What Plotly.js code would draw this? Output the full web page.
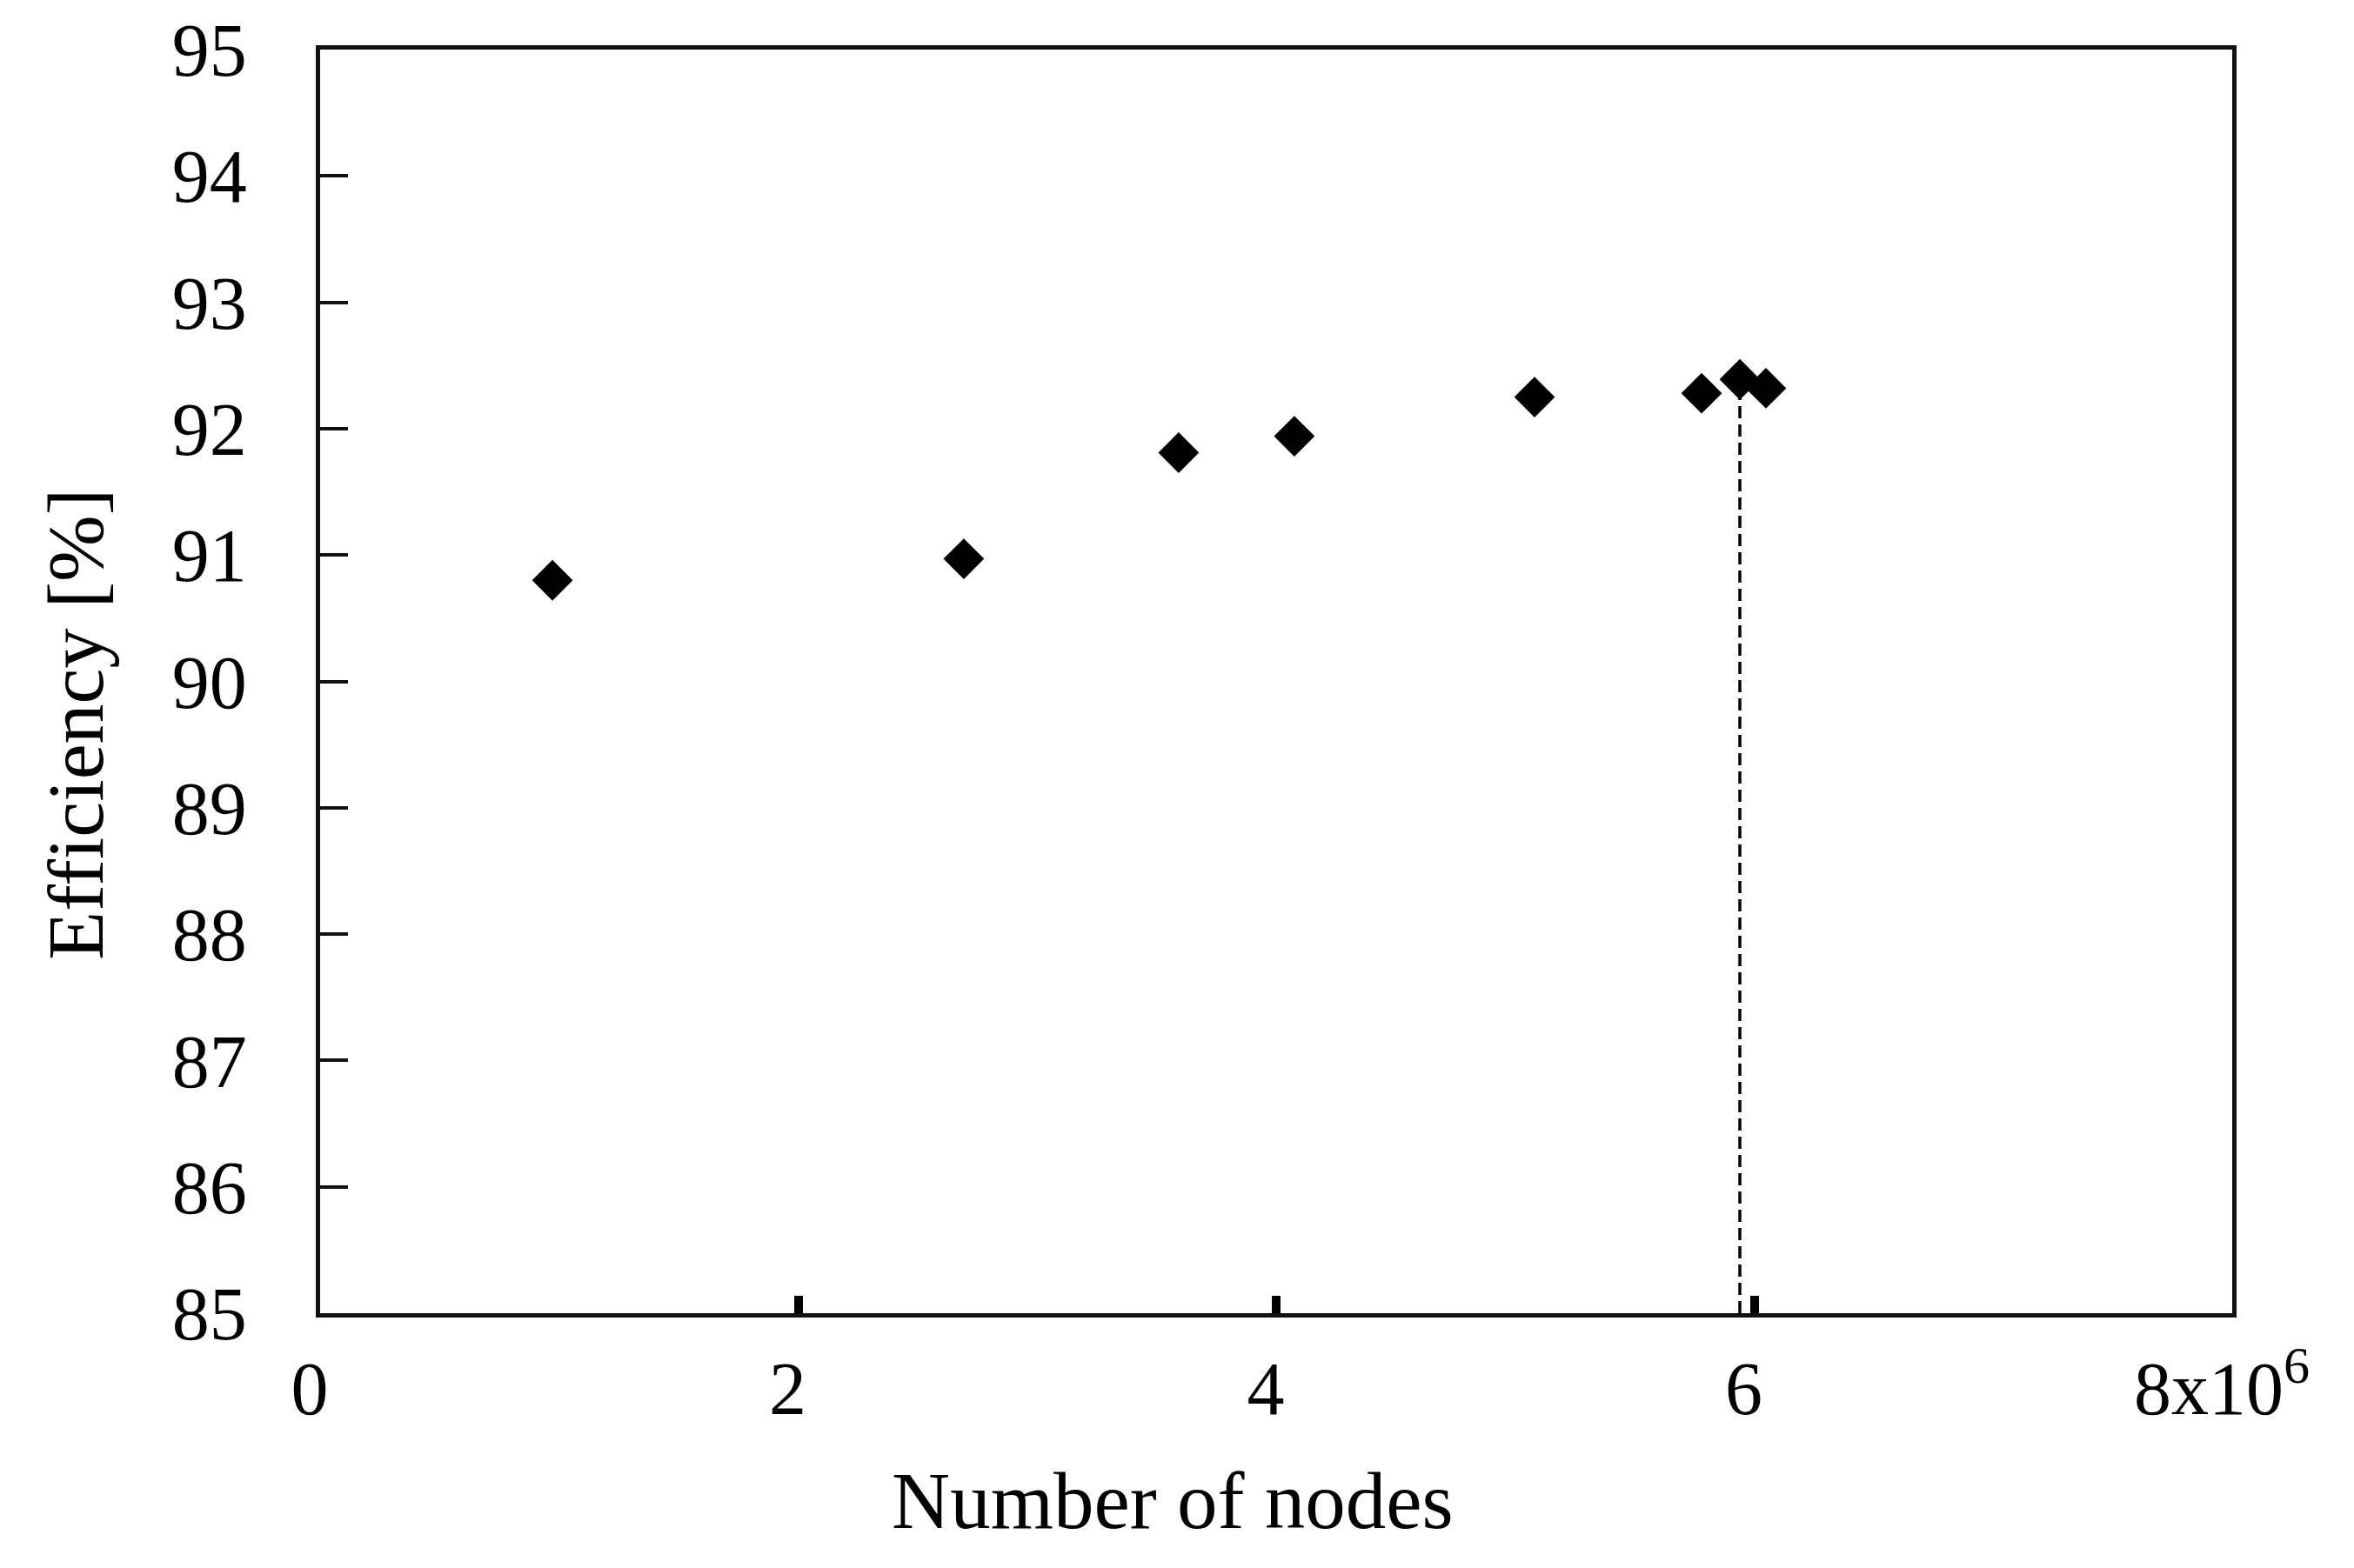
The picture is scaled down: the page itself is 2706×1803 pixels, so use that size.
<!DOCTYPE html>
<html>
<head>
<meta charset="utf-8">
<script src="https://cdn.plot.ly/plotly-3.0.1.min.js"></script>
<style>
  html, body { margin: 0; padding: 0; background: #ffffff; }
  #chart { width: 2706px; height: 1803px; }
</style>
</head>
<body>
<div id="chart"></div>
<script>
// Data
const nodes = [972000, 2693000, 3592000, 4076000, 5081000, 5780000, 5940000, 6049000];
const efficiency = [90.80, 90.97, 91.81, 91.94, 92.25, 92.28, 92.39, 92.32];

// Vertical dashed marker at the selected mesh
const markLineX = [5940000, 5940000];
const markLineY = [85, 92.39];

// Axis ticks
const xTickVals = [0, 2000000, 4000000, 6000000, 8000000];
const xTickText = ['0', '2', '4', '6', '8x10<sup>6</sup>'];
const yTickVals = [85, 86, 87, 88, 89, 90, 91, 92, 93, 94, 95];

const font = 'Liberation Serif, Times New Roman, serif';

const traces = [
  {
    x: markLineX, y: markLineY,
    type: 'scatter', mode: 'lines',
    line: { color: '#000000', width: 3.5, dash: '14px,7px' },
    hoverinfo: 'skip', showlegend: false
  },
  {
    x: nodes, y: efficiency,
    type: 'scatter', mode: 'markers',
    marker: { symbol: 'diamond', size: 36, color: '#000000' },
    showlegend: false
  }
];

const layout = {
  width: 2706, height: 1803,
  paper_bgcolor: '#ffffff', plot_bgcolor: '#ffffff',
  margin: { l: 368, r: 140, t: 57, b: 293 },
  font: { family: font, color: '#000000', size: 86 },
  showlegend: false,
  xaxis: {
    range: [0, 8000000],
    tickvals: xTickVals, ticktext: xTickText,
    ticks: 'inside', ticklen: 20, tickwidth: 10, tickcolor: '#000000',
    showline: true, linecolor: '#111111', linewidth: 5, mirror: true,
    showgrid: false, zeroline: false,
    tickfont: { family: font, size: 86, color: '#000000' },
    ticklabelstandoff: 8,
    ticklabelshift: -12
  },
  yaxis: {
    range: [85, 95],
    tickvals: yTickVals,
    ticks: 'inside', ticklen: 32, tickwidth: 4, tickcolor: '#111111',
    showline: true, linecolor: '#111111', linewidth: 5, mirror: true,
    showgrid: false, zeroline: false,
    tickfont: { family: font, size: 86, color: '#000000' },
    ticklabelstandoff: 62
  },
  annotations: [
    {
      text: 'Number of nodes', xref: 'paper', yref: 'paper',
      x: (1348 - 368) / 2198, y: -(1726 - 1510) / 1453,
      xanchor: 'center', yanchor: 'middle', showarrow: false,
      font: { family: font, size: 93, color: '#000000' }
    },
    {
      text: 'Efficiency [%]', xref: 'paper', yref: 'paper',
      x: -(368 - 87) / 2198, y: (1510 - 833) / 1453,
      xanchor: 'center', yanchor: 'middle', showarrow: false, textangle: -90,
      font: { family: font, size: 92, color: '#000000' }
    }
  ]
};

Plotly.newPlot('chart', traces, layout, { staticPlot: true, displayModeBar: false });
</script>
</body>
</html>
